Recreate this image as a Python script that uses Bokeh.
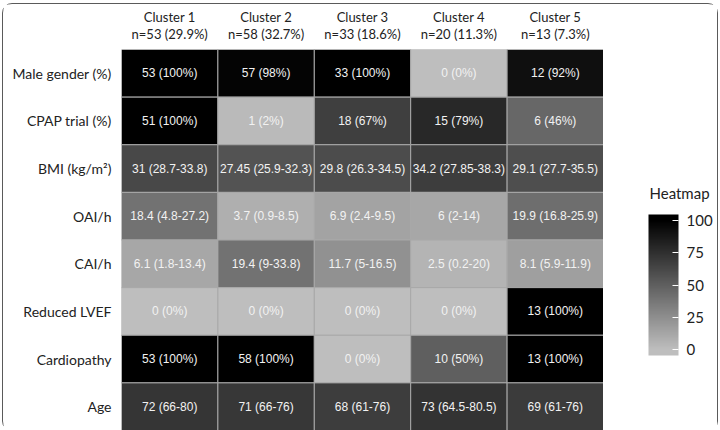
from bokeh.plotting import figure
from bokeh.layouts import row
from bokeh.models import (ColumnDataSource, FactorRange, LinearColorMapper, ColorBar,
                          FixedTicker, Range1d)
from bokeh.transform import transform
from bokeh.core.properties import value
from bokeh.embed import file_html
from bokeh.resources import INLINE

# ---------------- data ----------------
clusters = ["Cluster 1", "Cluster 2", "Cluster 3", "Cluster 4", "Cluster 5"]
cluster_n = ["n=53 (29.9%)", "n=58 (32.7%)", "n=33 (18.6%)", "n=20 (11.3%)", "n=13 (7.3%)"]
variables = ["Male gender (%)", "CPAP trial (%)", "BMI (kg/m\u00b2)", "OAI/h", "CAI/h",
             "Reduced LVEF", "Cardiopathy", "Age"]

male_txt = ["53 (100%)", "57 (98%)", "33 (100%)", "0 (0%)", "12 (92%)"]
male_val = [100, 98, 100, 0, 92]
cpap_txt = ["51 (100%)", "1 (2%)", "18 (67%)", "15 (79%)", "6 (46%)"]
cpap_val = [100, 2, 67, 79, 46]
bmi_txt = ["31 (28.7-33.8)", "27.45 (25.9-32.3)", "29.8 (26.3-34.5)", "34.2 (27.85-38.3)", "29.1 (27.7-35.5)"]
bmi_val = [62, 56, 60, 68, 59]
oai_txt = ["18.4 (4.8-27.2)", "3.7 (0.9-8.5)", "6.9 (2.4-9.5)", "6 (2-14)", "19.9 (16.8-25.9)"]
oai_val = [40, 8, 14, 12, 42]
cai_txt = ["6.1 (1.8-13.4)", "19.4 (9-33.8)", "11.7 (5-16.5)", "2.5 (0.2-20)", "8.1 (5.9-11.9)"]
cai_val = [12, 40, 24, 5, 16]
lvef_txt = ["0 (0%)", "0 (0%)", "0 (0%)", "0 (0%)", "13 (100%)"]
lvef_val = [0, 0, 0, 0, 100]
cardio_txt = ["53 (100%)", "58 (100%)", "0 (0%)", "10 (50%)", "13 (100%)"]
cardio_val = [100, 100, 0, 50, 100]
age_txt = ["72 (66-80)", "71 (66-76)", "68 (61-76)", "73 (64.5-80.5)", "69 (61-76)"]
age_val = [72, 71, 68, 73, 69]

legend_title = "Heatmap"
legend_ticks = [0, 25, 50, 75, 100]

rows_txt = [male_txt, cpap_txt, bmi_txt, oai_txt, cai_txt, lvef_txt, cardio_txt, age_txt]
rows_val = [male_val, cpap_val, bmi_val, oai_val, cai_val, lvef_val, cardio_val, age_val]

# ---------------- build table ----------------
xf = [f"{c}\n{n}" for c, n in zip(clusters, cluster_n)]
xs, ys, vals, txts = [], [], [], []
for var, tr, vr in zip(variables, rows_txt, rows_val):
    for j, f in enumerate(xf):
        xs.append(f)
        ys.append(var)
        vals.append(vr[j])
        txts.append(tr[j])
src = ColumnDataSource(dict(x=xs, y=ys, v=vals, t=txts))

# grey gradient (grey75 -> black), clamped beyond 0..100
LOW, HIGH = -4.5, 104.5
palette = []
for i in range(256):
    v = LOW + (i + 0.5) * (HIGH - LOW) / 256
    v = min(max(v, 0), 100)
    g = int(round(190 * (1 - v / 100)))
    palette.append("#%02x%02x%02x" % (g, g, g))
mapper = LinearColorMapper(palette=palette, low=LOW, high=HIGH)

p = figure(width=600, height=426,
           x_range=FactorRange(*xf), y_range=FactorRange(*variables[::-1]),
           x_axis_location="above", output_backend="svg", toolbar_location=None,
           min_border_left=118, min_border_right=0, min_border_top=45, min_border_bottom=0)
p.outline_line_color = None
p.grid.grid_line_color = None
p.background_fill_color = "white"
p.border_fill_color = "white"

p.rect(x="x", y="y", width=1, height=1, source=src,
       fill_color=transform("v", mapper), line_color="#a8a8a8", line_width=1)
p.text(x="x", y="y", text="t", source=src, text_align="center", text_baseline="middle",
       text_color="#f2f2f2", text_font=value("Liberation Sans"), text_font_size="12px")

for ax in (p.xaxis[0], p.yaxis[0]):
    ax.axis_line_color = None
    ax.major_tick_line_color = None
    ax.minor_tick_line_color = None
    ax.major_label_text_color = "#222222"
    ax.major_label_text_font = "Lato"
p.xaxis.major_label_text_font_size = "13px"
p.xaxis.major_label_text_line_height = 1.05
p.xaxis.major_label_standoff = 2
p.yaxis.major_label_text_font_size = "14px"
p.yaxis.major_label_standoff = 4

# legend panel (its frame is aligned with the heatmap frame; y in px from frame top)
q = figure(width=114, height=426, x_range=Range1d(0, 114), y_range=Range1d(381, 0),
           x_axis_location=None, y_axis_location=None,
           output_backend="svg", toolbar_location=None,
           min_border=0)
q.outline_line_color = None
q.grid.grid_line_color = None
q.text(x=[46], y=[143], text=[legend_title], text_align="left", text_baseline="middle",
       text_color="#222222", text_font=value("Lato"), text_font_size="15px")

cb = ColorBar(color_mapper=mapper, ticker=FixedTicker(ticks=legend_ticks),
              width=30, height=141,
              major_label_text_font="Lato", major_label_text_font_size="15px",
              major_label_text_color="#222222", label_standoff=8,
              major_tick_line_color="white", major_tick_in=6, major_tick_out=0,
              bar_line_color=None, border_line_color=None, background_fill_color=None,
              padding=0, margin=0, location=(45, 75))
q.add_layout(cb)

layout = row(p, q, spacing=0)
layout.styles = {"border": "1.5px solid #5a5a5a", "border-radius": "10px",
                 "margin-left": "2px", "margin-top": "3px"}

open("out.html", "w").write(file_html(layout, INLINE))
